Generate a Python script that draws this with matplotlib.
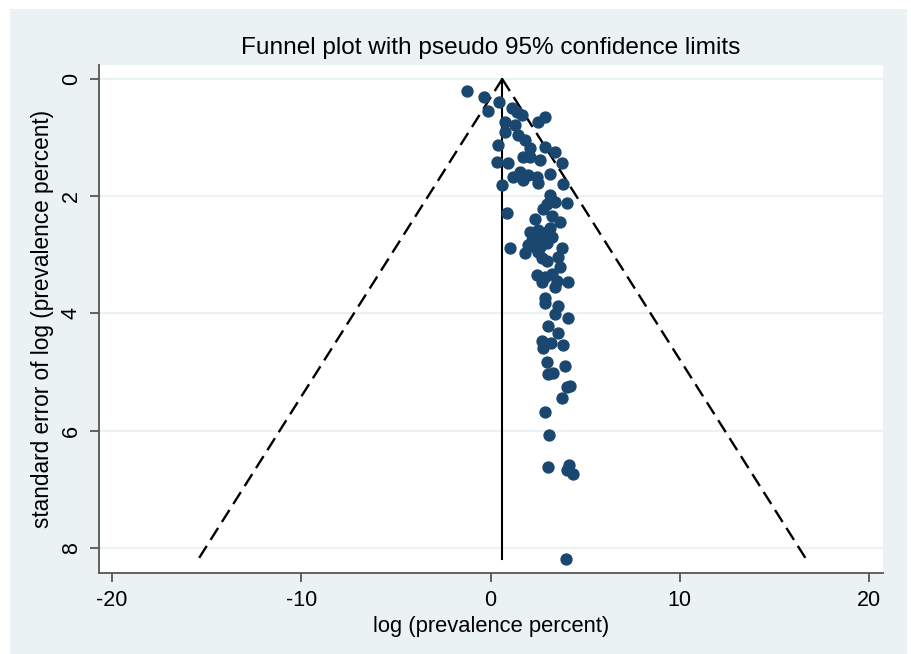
#
# Funnel plot con limites de confianza pseudo 95%
#
import matplotlib.pyplot as plt
from matplotlib.patches import Rectangle
import numpy as np

plt.rcParams['font.family'] = ['Liberation Sans', 'DejaVu Sans']
plt.rcParams['axes.unicode_minus'] = False

# Datos: log(prevalencia) y su error estandar
log_prev = [-1.24, -0.34, -0.13, 0.45, 1.14, 1.40, 1.66, 2.88, 2.51, 0.77,
            0.77, 1.45, 1.82, 0.40, 2.09, 2.88, 3.41, 1.72, 2.09, 3.78,
            0.34, 0.92, 1.56, 1.19, 1.98, 2.46, 2.51, 3.14, 0.61, 3.83,
            1.72, 3.14, 2.99, 3.41, 4.04, 0.87, 2.77, 2.35, 3.25, 3.67,
            2.09, 2.51, 2.99, 3.25, 2.46, 2.62, 2.99, 1.03, 1.82, 2.51,
            2.72, 2.99, 3.78, 3.57, 3.67, 2.46, 2.88, 3.25, 3.51, 4.10,
            2.72, 3.41, 2.88, 2.88, 3.57, 3.41, 4.10, 3.04, 3.57, 2.72,
            3.20, 3.83, 2.77, 2.99, 3.94, 3.04, 3.30, 4.04, 4.20, 3.78,
            2.88, 3.09, 3.04, 4.15, 4.04, 4.36, 3.99,
            2.19, 2.77, 2.35, 3.14, 1.98, 1.29, 2.62]
se = [0.20, 0.31, 0.55, 0.39, 0.49, 0.56, 0.61, 0.65, 0.73, 0.73,
      0.90, 0.96, 1.04, 1.13, 1.18, 1.16, 1.25, 1.33, 1.33, 1.43,
      1.42, 1.43, 1.59, 1.67, 1.64, 1.67, 1.77, 1.62, 1.81, 1.79,
      1.72, 1.98, 2.13, 2.10, 2.12, 2.29, 2.22, 2.39, 2.34, 2.44,
      2.61, 2.58, 2.61, 2.70, 2.75, 2.87, 2.80, 2.88, 2.97, 2.95,
      3.05, 3.11, 2.88, 3.04, 3.21, 3.34, 3.38, 3.33, 3.45, 3.46,
      3.46, 3.55, 3.74, 3.82, 3.87, 4.01, 4.08, 4.22, 4.33, 4.47,
      4.51, 4.54, 4.59, 4.83, 4.90, 5.03, 5.02, 5.26, 5.24, 5.44,
      5.68, 6.08, 6.62, 6.59, 6.67, 6.74, 8.19,
      2.75, 2.71, 2.87, 2.54, 2.83, 0.78, 1.38]

pooled = 0.62  # estimacion combinada (vertice del embudo)

x_ticks = [-20, -10, 0, 10, 20]
y_ticks = [0, 2, 4, 6, 8]

# Colores estilo Stata s2color
navy = '#1a476f'
bluish = '#eaf2f3'

fig = plt.figure(figsize=(9.12, 6.54), dpi=100)
fig.patch.set_facecolor('white')
fondo = Rectangle((10 / 912, 0), 897 / 912, 1 - 9 / 654,
                  transform=fig.transFigure, facecolor=bluish,
                  edgecolor='none', zorder=-10)
fig.add_artist(fondo)

ax = fig.add_axes([99 / 912, 1 - 573 / 654, 784 / 912, 508 / 654])
ax.set_zorder(1)
ax.set_facecolor('white')

# Limites del embudo
se_max = max(se)
se_line = np.array([0, se_max])
ax.plot(pooled - 1.96 * se_line, se_line, '--k', lw=1.7, dashes=(6, 3), zorder=2)
ax.plot(pooled + 1.96 * se_line, se_line, '--k', lw=1.7, dashes=(6, 3), zorder=2)
ax.plot([pooled, pooled], [0, se_max], '-k', lw=1.5, zorder=2)

# Estudios
ax.scatter(log_prev, se, s=62, color=navy, edgecolors=navy, zorder=3)

# Ejes
ax.set_xlim(-20.69, 20.74)
ax.set_ylim(8.43, -0.24)
ax.set_xticks(x_ticks)
ax.set_yticks(y_ticks)
ax.yaxis.grid(True, color=bluish, lw=1.5)
ax.set_axisbelow(True)
for side in ['top', 'right']:
    ax.spines[side].set_visible(False)
for side in ['left', 'bottom']:
    ax.spines[side].set_color('#555555')
    ax.spines[side].set_linewidth(1.3)
ax.tick_params(axis='both', length=6.5, width=1.3, color='#555555',
               labelsize=15.5, pad=6)
for lab in ax.get_yticklabels():
    lab.set_rotation(90)
    lab.set_va('center')

ax.set_xlabel('log (prevalence percent)', fontsize=15.8, labelpad=3)
ax.set_ylabel('standard error of log (prevalence percent)', fontsize=16.3, labelpad=5)
ax.set_title('Funnel plot with pseudo 95% confidence limits', fontsize=17.6, pad=8)

fig.savefig('out.png', dpi=100, facecolor=fig.get_facecolor())
